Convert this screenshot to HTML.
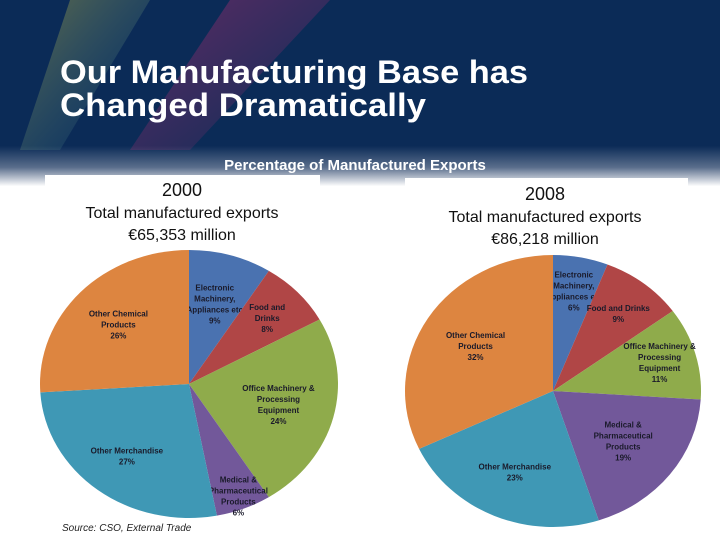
<!DOCTYPE html>
<html><head><meta charset="utf-8"><style>
body{margin:0;width:720px;height:540px;overflow:hidden;font-family:"Liberation Sans",sans-serif;}
</style></head><body>
<svg id="s" width="720" height="540" xmlns="http://www.w3.org/2000/svg">
<defs>
<linearGradient id="bg" x1="0" y1="0" x2="0" y2="1">
<stop offset="0" stop-color="#0b2b57"/><stop offset="0.27" stop-color="#0b2b57"/><stop offset="0.31" stop-color="#5a6e8c"/><stop offset="0.345" stop-color="#ffffff"/><stop offset="1" stop-color="#ffffff"/>
</linearGradient>
<linearGradient id="beam" x1="0" y1="0" x2="1" y2="1"><stop offset="0" stop-color="#e0307a" stop-opacity="0.7"/><stop offset="1" stop-color="#e0307a" stop-opacity="0"/></linearGradient>
<linearGradient id="beam2" x1="0" y1="0" x2="1" y2="1"><stop offset="0" stop-color="#e8d030" stop-opacity="0.7"/><stop offset="1" stop-color="#3aa0d0" stop-opacity="0"/></linearGradient>
</defs>
<rect width="720" height="540" fill="url(#bg)"/>
<polygon points="70,0 150,0 60,150 20,150" fill="url(#beam2)" opacity="0.55"/>
<polygon points="230,0 330,0 190,150 130,150" fill="url(#beam)" opacity="0.55"/>
<text x="60" y="83" font-size="32" font-weight="bold" fill="#fff" textLength="468" lengthAdjust="spacingAndGlyphs">Our Manufacturing Base has</text>
<text x="60" y="116" font-size="32" font-weight="bold" fill="#fff" textLength="366" lengthAdjust="spacingAndGlyphs">Changed Dramatically</text>
<rect x="45" y="175" width="275" height="365" fill="#fff"/>
<rect x="405" y="178" width="283" height="362" fill="#fff"/>
<text x="355" y="170" font-size="15" font-weight="bold" fill="#fff" text-anchor="middle">Percentage of Manufactured Exports</text>
<g font-size="16" fill="#111" text-anchor="middle">
<text x="182" y="196" font-size="18">2000</text>
<text x="182" y="218">Total manufactured exports</text>
<text x="182" y="240">€65,353 million</text>
<text x="545" y="200" font-size="18">2008</text>
<text x="545" y="222">Total manufactured exports</text>
<text x="545" y="244">€86,218 million</text>
</g>
<text x="62" y="531" font-size="10" font-style="italic" fill="#222">Source: CSO, External Trade</text>
<g id="pies"></g>
</svg>
<script>
const categories=["Electronic Machinery, Appliances etc","Food and Drinks","Office Machinery & Processing Equipment","Medical & Pharmaceutical Products","Other Merchandise","Other Chemical Products"];
const values2000=[9,8,24,6,27,26];
const values2008=[6,9,11,19,23,32];
const colors=["#4a72b0","#b04646","#8fab4b","#72589a","#3f98b5","#dd8540"];
const labels2000=[["Electronic","Machinery,","Appliances etc","9%"],["Food and","Drinks","8%"],["Office Machinery &","Processing","Equipment","24%"],["Medical &","Pharmaceutical","Products","6%"],["Other Merchandise","27%"],["Other Chemical","Products","26%"]];
const labels2008=[["Electronic","Machinery,","Appliances etc","6%"],["Food and Drinks","9%"],["Office Machinery &","Processing","Equipment","11%"],["Medical &","Pharmaceutical","Products","19%"],["Other Merchandise","23%"],["Other Chemical","Products","32%"]];
const NS="http://www.w3.org/2000/svg";
const g=document.getElementById('pies');
function pie(vals,labs,cx,cy,rx,ry,key,lr){
  const tot=vals.reduce((a,b)=>a+b,0);let a=0;
  vals.forEach((v,i)=>{
    const a0=a/tot*2*Math.PI,a1=(a+v)/tot*2*Math.PI;a+=v;
    const x0=cx+rx*Math.sin(a0),y0=cy-ry*Math.cos(a0),x1=cx+rx*Math.sin(a1),y1=cy-ry*Math.cos(a1);
    const p=document.createElementNS(NS,'path');
    p.setAttribute('d',`M${cx},${cy}L${x0},${y0}A${rx},${ry} 0 ${a1-a0>Math.PI?1:0} 1 ${x1},${y1}Z`);
    p.setAttribute('fill',colors[i]);
    
    
    g.appendChild(p);
    const am=(a0+a1)/2,f=lr[i];
    const lx=cx+rx*f*Math.sin(am),ly=cy-ry*f*Math.cos(am);
    const t=document.createElementNS(NS,'text');
    t.setAttribute('text-anchor','middle');t.setAttribute('font-size','8');t.setAttribute('font-weight','bold');t.setAttribute('fill','#1a1a2a');
    
    
    const n=labs[i].length;
    labs[i].forEach((s,k)=>{const ts=document.createElementNS(NS,'tspan');ts.setAttribute('x',lx);ts.setAttribute('y',ly+(k-(n-1)/2)*11+3);ts.textContent=s;t.appendChild(ts);});
    g.appendChild(t);
  });
}
pie(values2000,labels2000,189,384,149,134,'2000',[0.62,0.72,0.62,0.9,0.68,0.65]);
pie(values2008,labels2008,553,391,148,136,'2008',[0.75,0.72,0.75,0.6,0.65,0.62]);
</script>
</body></html>
